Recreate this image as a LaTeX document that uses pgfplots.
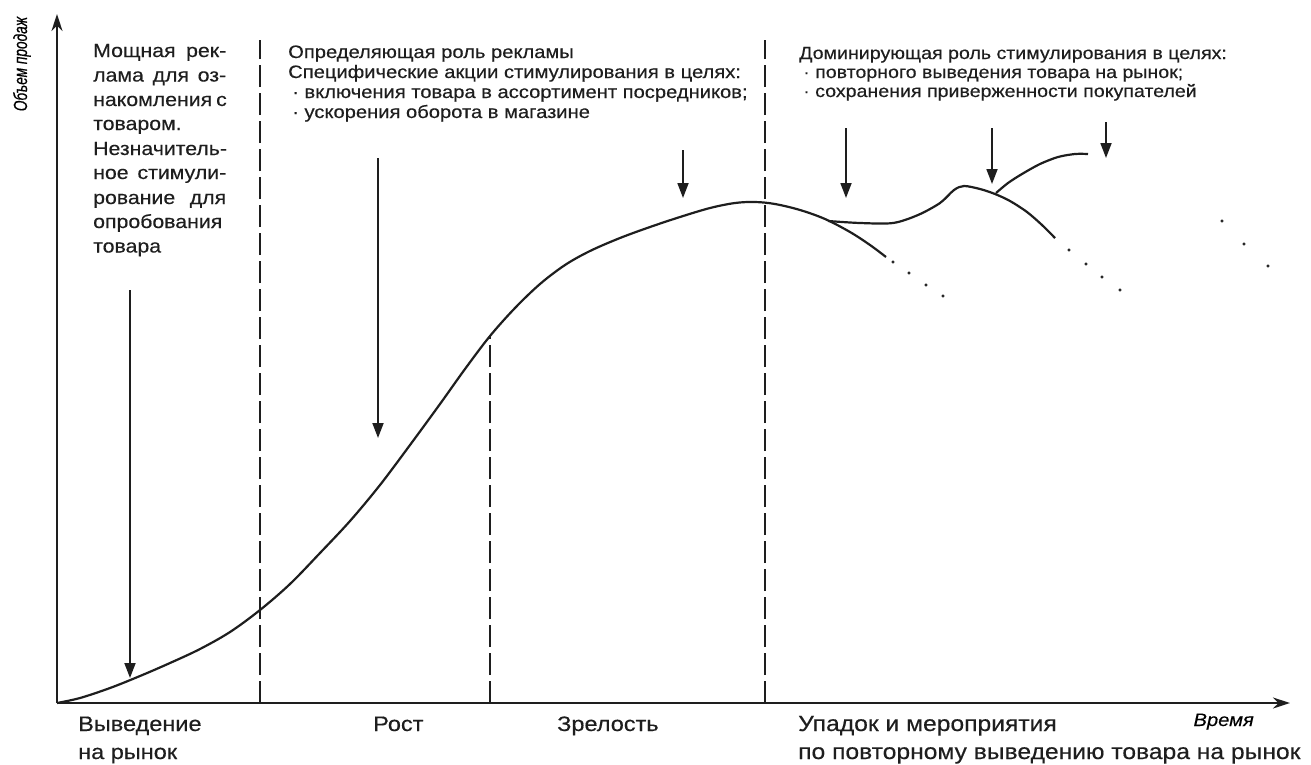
\documentclass[border=0pt]{standalone}
\usepackage{pgfplots}
\pgfplotsset{compat=1.18}
\usepackage{fontspec}
\setmainfont[FakeStretch=1.12,FakeBold=0.35]{Liberation Sans}
\newfontfamily\labfont[FakeStretch=0.72,FakeBold=0.5]{Liberation Sans}
\usetikzlibrary{arrows.meta}
\definecolor{ink}{HTML}{1E1E1E}
\begin{document}
\begin{tikzpicture}
\useasboundingbox (0,0) rectangle (1311pt,764pt);
\begin{axis}[
  width=1311pt, height=764pt, scale only axis,
  xmin=0, xmax=1311, ymin=0, ymax=764, y dir=reverse,
  axis lines=none, clip=false,
  every node/.style={inner sep=0pt, text=ink},
]
% axes
\addplot[ink, line width=2.2pt, -{Stealth[length=17pt,width=11pt]}] coordinates {(57,703) (57,14)};
\addplot[ink, line width=2.2pt, -{Stealth[length=17pt,width=11pt]}] coordinates {(57,703) (1290,703)};
% stage separators
\addplot[ink, line width=2.6pt, dash pattern=on 22pt off 6pt] coordinates {(260,703) (260,40)};
\addplot[ink, line width=2.6pt, dash pattern=on 22pt off 6pt] coordinates {(490,703) (490,335)};
\addplot[ink, line width=2.6pt, dash pattern=on 22pt off 6pt] coordinates {(765,703) (765,40)};
% main life-cycle curve
\addplot[ink, line width=2.2pt, smooth, tension=0.55] coordinates {
(57,703) (80,698) (110,688) (140,676) (170,663) (200,649) (230,632) (260,610)
(290,584) (320,553) (350,521) (380,485) (410,445) (440,404) (465,369) (490,336)
(515,308) (540,284) (565,265) (590,251) (620,238) (650,227) (680,217) (710,208)
(735,203) (755,202) (775,204) (800,210) (825,219) (850,232) (870,245) (886,257)};
\addplot[ink, only marks, mark=*, mark size=1.3pt] coordinates {(893,262) (909,273) (926,285) (943,296)};
% relaunch branch
\addplot[ink, line width=2.2pt, smooth, tension=0.5] coordinates {
(828,221) (860,223) (893,223) (918,215) (940,203) (954,190) (964,186) (980,189)
(995,194) (1010,201) (1027,212) (1042,225) (1055,238)};
\addplot[ink, only marks, mark=*, mark size=1.3pt] coordinates {(1069,250) (1086,264) (1102,277) (1120,290)};
\addplot[ink, line width=2.2pt, smooth, tension=0.5] coordinates {
(996,193) (1008,183) (1022,174) (1040,164) (1058,157) (1075,154) (1088,154)};
\addplot[ink, only marks, mark=*, mark size=1.3pt] coordinates {(1222,221) (1244,244) (1268,266)};
% arrows
\addplot[ink, line width=1.8pt, -{Triangle[length=15pt,width=11pt]}] coordinates {(130,290) (130,678)};
\addplot[ink, line width=1.8pt, -{Triangle[length=15pt,width=11pt]}] coordinates {(378,158) (378,438)};
\addplot[ink, line width=1.8pt, -{Triangle[length=15pt,width=11pt]}] coordinates {(683,150) (683,198)};
\addplot[ink, line width=1.8pt, -{Triangle[length=15pt,width=11pt]}] coordinates {(846,128) (846,198)};
\addplot[ink, line width=1.8pt, -{Triangle[length=15pt,width=11pt]}] coordinates {(992,128) (992,184)};
\addplot[ink, line width=1.8pt, -{Triangle[length=15pt,width=11pt]}] coordinates {(1106,122) (1106,158)};
% y label
\node[rotate=90, anchor=center] at (axis cs:22,64) {\labfont\itshape\fontsize{19}{19}\selectfont Объем продаж};
% left block
\begin{scope}[every node/.style={anchor=base west, inner sep=0pt, text=ink, font=\fontsize{19}{19}\selectfont}]
\node at (axis cs:93,57) {\makebox[133pt][s]{Мощная рек-}};
\node at (axis cs:93,81.5) {\makebox[133pt][s]{лама для оз-}};
\node at (axis cs:93,106) {\makebox[133pt][s]{накомления с}};
\node at (axis cs:93,130) {товаром.};
\node at (axis cs:93,155) {Незначитель-};
\node at (axis cs:93,179) {\makebox[133pt][s]{ное стимули-}};
\node at (axis cs:93,204) {\makebox[133pt][s]{рование для}};
\node at (axis cs:93,228) {опробования};
\node at (axis cs:93,252.5) {товара};
\end{scope}
% middle block
\begin{scope}[every node/.style={anchor=base west, inner sep=0pt, text=ink, font=\fontsize{18}{18}\selectfont}]
\node at (axis cs:288,58) {Определяющая роль рекламы};
\node at (axis cs:288,78) {Специфические акции стимулирования в целях:};
\node at (axis cs:292,98) {· включения товара в ассортимент посредников;};
\node at (axis cs:292,118) {· ускорения оборота в магазине};
\end{scope}
% right block
\begin{scope}[every node/.style={anchor=base west, inner sep=0pt, text=ink, font=\fontsize{17.5}{17.5}\selectfont}]
\node at (axis cs:799,59) {Доминирующая роль стимулирования в целях:};
\node at (axis cs:803,78) {· повторного выведения товара на рынок;};
\node at (axis cs:803,97) {· сохранения приверженности покупателей};
\end{scope}
% stage labels
\begin{scope}[every node/.style={anchor=base west, inner sep=0pt, text=ink, font=\fontsize{21}{21}\selectfont}]
\node at (axis cs:78,731) {Выведение};
\node at (axis cs:78,759) {на рынок};
\node at (axis cs:373,731) {Рост};
\node at (axis cs:557,731) {Зрелость};
\end{scope}
\begin{scope}[every node/.style={anchor=base west, inner sep=0pt, text=ink, font=\fontsize{22}{22}\selectfont}]
\node at (axis cs:798,731) {Упадок и мероприятия};
\node at (axis cs:798,759) {по повторному выведению товара на рынок};
\end{scope}
\node[anchor=base west] at (axis cs:1190,726) {\itshape\fontsize{18}{18}\selectfont Время};
\end{axis}
\end{tikzpicture}
\end{document}
